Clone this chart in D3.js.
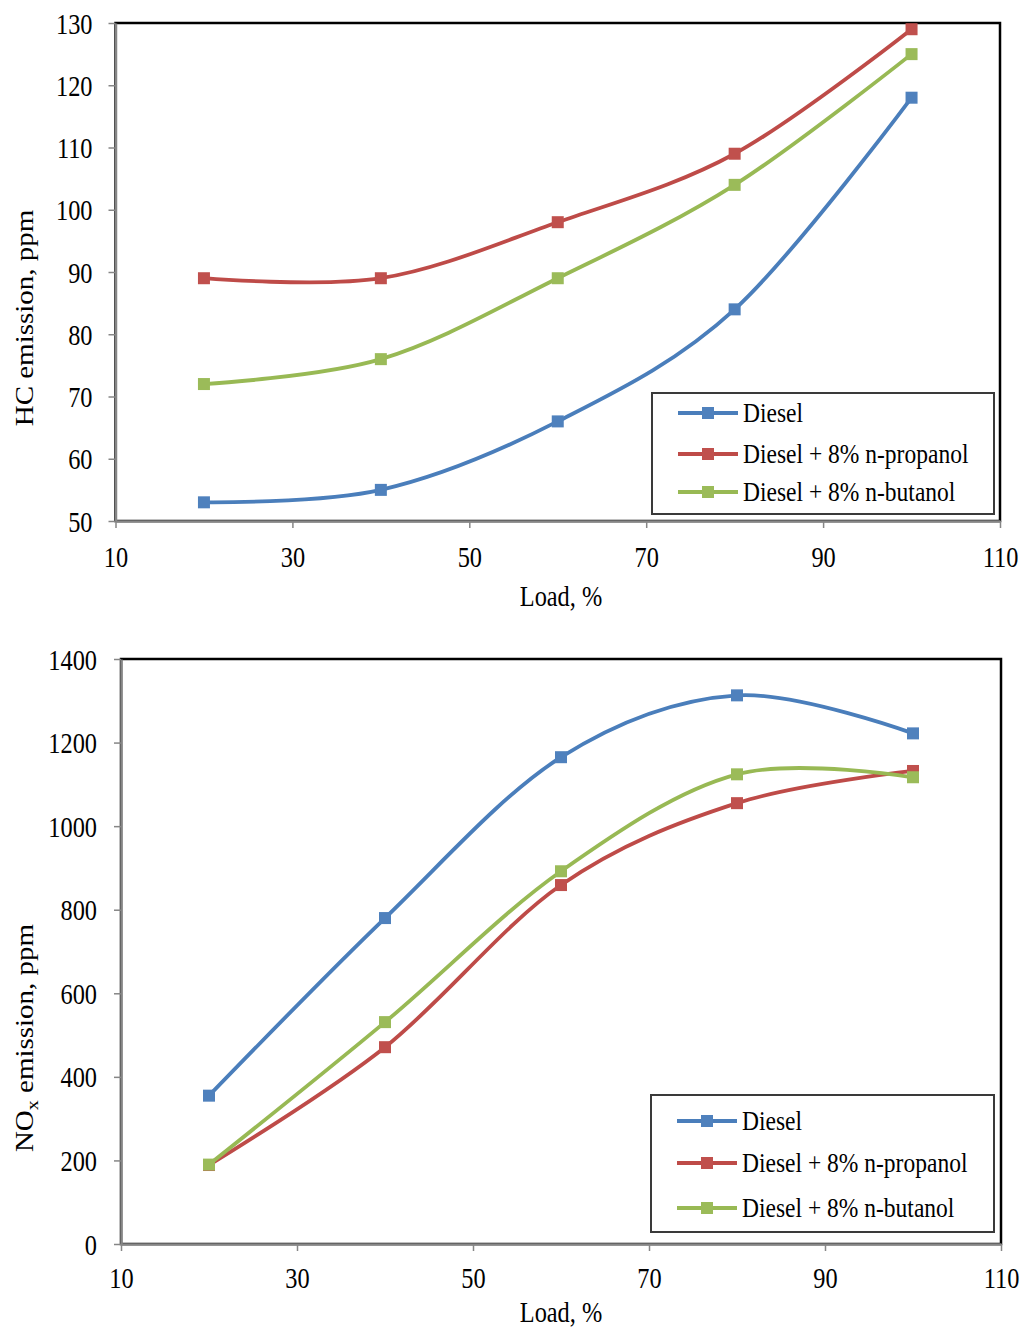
<!DOCTYPE html>
<html>
<head>
<meta charset="utf-8">
<script src="https://cdn.jsdelivr.net/npm/d3@7"></script>
<style>
  body { margin: 0; background: #fff; }
  text { font-family: "Liberation Serif", "Times New Roman", serif; fill: #000; }
</style>
</head>
<body>
<script>
// data
const loads = [20, 40, 60, 80, 100];
const seriesNames = ["Diesel", "Diesel + 8% n-propanol", "Diesel + 8% n-butanol"];

const hcDiesel   = [53, 55, 66, 84, 118];
const hcPropanol = [89, 89, 98, 109, 129];
const hcButanol  = [72, 76, 89, 104, 125];

const noxDiesel   = [355, 780, 1165, 1313, 1222];
const noxPropanol = [189, 471, 859, 1055, 1132];
const noxButanol  = [190, 531, 892, 1124, 1117];

const loadTicks = [10, 30, 50, 70, 90, 110];
const hcTicks = [50, 60, 70, 80, 90, 100, 110, 120, 130];
const noxTicks = [0, 200, 400, 600, 800, 1000, 1200, 1400];

const lineColors = ["#4a7ebb", "#be4b48", "#98b954"];
const markColors = ["#4f81bd", "#c0504d", "#9bbb59"];

// the source picture is squeezed sideways a bit, text follows that
const SX = 0.84;
const MK = 12;

let svg = d3.select("body").append("svg")
    .attr("width", 1026)
    .attr("height", 1327);

function panel(o) {
    let x = d3.scaleLinear().domain([10, 110]).range([o.left, o.right]);
    let y = d3.scaleLinear().domain(o.yDomain).range([o.bottom, o.top]);
    let g = svg.append("g");

    g.append("rect")
        .attr("x", o.left).attr("y", o.top)
        .attr("width", o.right - o.left).attr("height", o.bottom - o.top)
        .attr("fill", "#fff")
        .attr("stroke", "#000")
        .attr("stroke-width", 2.5);

    // y axis
    let ya = g.append("g")
        .attr("transform", `translate(${o.left},0)`)
        .call(d3.axisLeft(y).tickValues(o.yTicks).tickFormat(d => d).tickSize(7).tickSizeOuter(0));
    ya.select(".domain").attr("stroke", "#868686").attr("stroke-width", 2.5);
    ya.selectAll(".tick line").attr("stroke", "#868686").attr("stroke-width", 1.5);
    ya.selectAll(".tick text")
        .attr("x", 0).attr("dy", null)
        .attr("transform", `translate(${-o.yGap},10) scale(${SX},1)`)
        .style("font-size", "29px");

    // x axis
    let xa = g.append("g")
        .attr("transform", `translate(0,${o.bottom})`)
        .call(d3.axisBottom(x).tickValues(loadTicks).tickFormat(d => d).tickSize(7).tickSizeOuter(0));
    xa.select(".domain").attr("stroke", "#868686").attr("stroke-width", 2.5);
    xa.selectAll(".tick line").attr("stroke", "#868686").attr("stroke-width", 1.5);
    xa.selectAll(".tick text")
        .attr("y", 0).attr("dy", null)
        .attr("transform", `translate(0,${o.xGap}) scale(${SX},1)`)
        .style("font-size", "29px");

    // titles
    g.append("text")
        .attr("transform", `translate(561,${o.xTitleY}) scale(${SX},1)`)
        .attr("text-anchor", "middle")
        .style("font-size", "29px")
        .text("Load, %");

    let yt = g.append("text")
        .attr("transform", `translate(${o.yTitleX},${o.yTitleY}) scale(${SX},1) rotate(-90)`)
        .attr("text-anchor", "middle")
        .style("font-size", "29px");
    o.yTitle(yt);

    // series
    let line = d3.line()
        .x((d, i) => x(loads[i]))
        .y(d => y(d))
        .curve(d3.curveCardinal.tension(0));

    o.series.forEach((vals, k) => {
        g.append("path")
            .attr("d", line(vals))
            .attr("fill", "none")
            .attr("stroke", lineColors[k])
            .attr("stroke-width", 3.8);
        g.selectAll(null)
            .data(vals)
            .enter().append("rect")
            .attr("x", (d, i) => x(loads[i]) - MK / 2)
            .attr("y", d => y(d) - MK / 2)
            .attr("width", MK).attr("height", MK)
            .attr("fill", markColors[k]);
    });

    // legend
    let L = o.legend;
    g.append("rect")
        .attr("x", L.x).attr("y", L.y)
        .attr("width", L.w).attr("height", L.h)
        .attr("fill", "#fff")
        .attr("stroke", "#3a3a3a")
        .attr("stroke-width", 2);
    seriesNames.forEach((name, k) => {
        let cy = L.rows[k];
        g.append("line")
            .attr("x1", L.x + 26).attr("x2", L.x + 86)
            .attr("y1", cy).attr("y2", cy)
            .attr("stroke", lineColors[k])
            .attr("stroke-width", 3.8);
        g.append("rect")
            .attr("x", L.x + 56 - MK / 2).attr("y", cy - MK / 2)
            .attr("width", MK).attr("height", MK)
            .attr("fill", markColors[k]);
        g.append("text")
            .attr("transform", `translate(${L.x + 91},${cy + 9}) scale(${SX},1)`)
            .style("font-size", "28px")
            .text(name);
    });
}

panel({
    left: 115.5, right: 1000, top: 23, bottom: 521,
    yDomain: [50, 130], yTicks: hcTicks, yGap: 23, xGap: 46,
    xTitleY: 606, yTitleX: 33, yTitleY: 318,
    yTitle: t => t.text("HC emission, ppm"),
    series: [hcDiesel, hcPropanol, hcButanol],
    legend: { x: 652, y: 393, w: 342, h: 121, rows: [413, 454, 492] }
});

panel({
    left: 121, right: 1001, top: 659, bottom: 1244,
    yDomain: [0, 1400], yTicks: noxTicks, yGap: 24, xGap: 44,
    xTitleY: 1322, yTitleX: 33, yTitleY: 1038,
    yTitle: t => {
        t.append("tspan").text("NO");
        t.append("tspan").attr("dy", 6).style("font-size", "20px").text("x");
        t.append("tspan").attr("dy", -6).text(" emission, ppm");
    },
    series: [noxDiesel, noxPropanol, noxButanol],
    legend: { x: 651, y: 1095, w: 343, h: 137, rows: [1121, 1163, 1208] }
});
</script>
</body>
</html>
